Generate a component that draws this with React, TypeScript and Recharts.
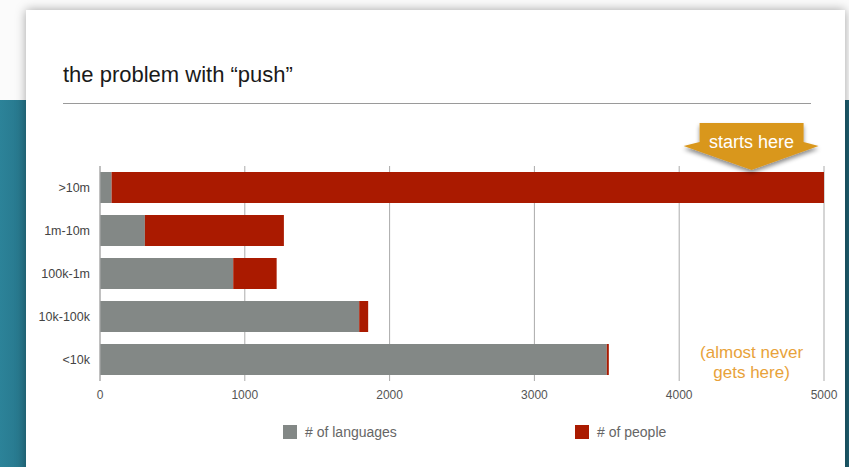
import React from 'react';
import { BarChart, Bar, XAxis, YAxis, CartesianGrid, ReferenceDot, Legend } from 'recharts';

const categories = ['>10m', '1m-10m', '100k-1m', '10k-100k', '<10k'];
const languages = [80, 310, 920, 1790, 3500];
const people = [4920, 960, 300, 62, 14];
const xTicks = [0, 1000, 2000, 3000, 4000, 5000];
const seriesNames = ['# of languages', '# of people'];
const seriesColors = ['#838886', '#AA1A00'];
const titleText = 'the problem with \u201cpush\u201d';
const calloutText = 'starts here';
const noteLines = ['(almost never', 'gets here)'];
const calloutX = 4500;

const data = categories.map((c, i) => ({ category: c, languages: languages[i], people: people[i] }));

const FONT = '"Liberation Sans", Arial, Helvetica, sans-serif';

const Arrow = (props: any) => {
  const { cx, cy } = props;
  const tipY = cy - 17.5;
  const x = cx;
  const pts = [
    [x - 52, tipY - 47],
    [x + 52, tipY - 47],
    [x + 52, tipY - 28],
    [x + 67, tipY - 24],
    [x, tipY],
    [x - 68, tipY - 24],
    [x - 52, tipY - 28],
  ]
    .map((p) => p.join(','))
    .join(' ');
  return (
    <g>
      <defs>
        <filter id="arrowShadow" x="-20%" y="-20%" width="140%" height="160%">
          <feDropShadow dx="0" dy="3" stdDeviation="2" floodColor="#000" floodOpacity="0.45" />
        </filter>
      </defs>
      <polygon points={pts} fill="#D9971F" filter="url(#arrowShadow)" />
      <text x={x} y={tipY - 22} textAnchor="middle" fill="#ffffff" fontSize={18} fontFamily={FONT}>
        {calloutText}
      </text>
    </g>
  );
};

const Note = (props: any) => {
  const { cx, cy } = props;
  return (
    <text textAnchor="middle" fill="#E8A23A" fontSize={17} fontFamily={FONT}>
      <tspan x={cx} y={cy - 2}>{noteLines[0]}</tspan>
      <tspan x={cx} y={cy + 18}>{noteLines[1]}</tspan>
    </text>
  );
};

const legendX = [283, 575];

const LegendContent = () => (
  <div style={{ position: 'relative', width: 849, height: 20 }}>
    {seriesNames.map((name, i) => (
      <div key={name} style={{ position: 'absolute', left: legendX[i], top: 0, display: 'flex', alignItems: 'center' }}>
        <div style={{ width: 14, height: 14, background: seriesColors[i] }} />
        <span style={{ marginLeft: 8, fontSize: 14, color: '#666', fontFamily: FONT, lineHeight: '14px' }}>{name}</span>
      </div>
    ))}
  </div>
);

export default function App() {
  return (
    <div style={{ position: 'absolute', left: 0, top: 0, width: 849, height: 467, overflow: 'hidden', background: '#fbfbfb' }}>
      <div style={{ position: 'absolute', left: 0, top: 100, width: 30, height: 367, background: 'linear-gradient(to right, #2C8399, #267489)' }} />
      <div style={{ position: 'absolute', left: 840, top: 100, width: 9, height: 367, background: '#1E5F70' }} />
      <div
        style={{
          position: 'absolute',
          left: 26,
          top: 10,
          width: 819,
          height: 480,
          background: '#ffffff',
          boxShadow: '0 0 10px rgba(0,0,0,0.35)',
        }}
      />
      <div
        style={{
          position: 'absolute',
          left: 63,
          top: 64,
          fontSize: 22,
          lineHeight: '22px',
          fontWeight: 300,
          color: '#1a1a1a',
          fontFamily: FONT,
          whiteSpace: 'nowrap',
        }}
      >
        {titleText}
      </div>
      <div style={{ position: 'absolute', left: 63, top: 103, width: 748, height: 1, background: '#9a9a9a' }} />
      <div style={{ position: 'absolute', left: 0, top: 0 }}>
        <BarChart
          width={849}
          height={467}
          data={data}
          layout="vertical"
          barCategoryGap={6}
          margin={{ top: 166, right: 25, bottom: 56, left: 40 }}
        >
          <CartesianGrid horizontal={false} vertical={true} stroke="#ababab" strokeWidth={1} />
          <XAxis
            type="number"
            domain={[0, 5000]}
            ticks={xTicks}
            axisLine={false}
            tickLine={false}
            tickSize={0}
            tickMargin={9}
            height={30}
            interval={0}
            tick={{ fill: '#555', fontSize: 12, fontFamily: FONT }}
          />
          <YAxis
            type="category"
            dataKey="category"
            width={60}
            axisLine={{ stroke: '#ababab' }}
            tickLine={false}
            tickSize={0}
            tickMargin={10}
            tick={{ fill: '#444', fontSize: 12.5, fontFamily: FONT }}
          />
          <Bar dataKey="languages" name={seriesNames[0]} stackId="a" fill={seriesColors[0]} isAnimationActive={false} />
          <Bar dataKey="people" name={seriesNames[1]} stackId="a" fill={seriesColors[1]} isAnimationActive={false} />
          <ReferenceDot x={calloutX} y={categories[0]} r={0} ifOverflow="visible" shape={Arrow} />
          <ReferenceDot x={calloutX} y={categories[4]} r={0} ifOverflow="visible" shape={Note} />
          <Legend
            layout="horizontal"
            verticalAlign="middle"
            align="center"
            content={LegendContent}
            wrapperStyle={{ position: 'absolute', left: 0, top: 425, width: 849 }}
          />
        </BarChart>
      </div>
    </div>
  );
}
